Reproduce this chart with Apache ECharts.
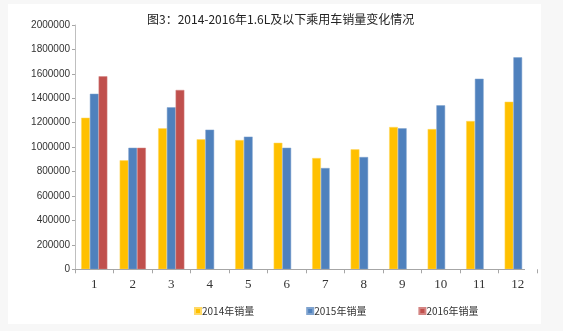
<!DOCTYPE html>
<html>
<head>
<meta charset="utf-8">
<script src="https://cdn.jsdelivr.net/npm/echarts@6/dist/echarts.min.js"></script>
<style>
html,body{margin:0;padding:0;background:#f7f7f7;}
#c{width:563px;height:331px;}
</style>
</head>
<body>
<div id="c"></div>
<script>
const categories = ['1','2','3','4','5','6','7','8','9','10','11','12'];
const sales2014 = [1241000, 892000, 1154000, 1064000, 1058000, 1036000, 911000, 982000, 1165000, 1148000, 1214000, 1372000];
const sales2015 = [1437000, 995000, 1326000, 1143000, 1086000, 995000, 829000, 919000, 1154000, 1342000, 1560000, 1735000];
const sales2016 = [1580000, 995000, 1468000, null, null, null, null, null, null, null, null, null];
const yTicks = [0, 200000, 400000, 600000, 800000, 1000000, 1200000, 1400000, 1600000, 1800000, 2000000];
const seriesNames = ['2014年销量', '2015年销量', '2016年销量'];

const chart = echarts.init(document.getElementById('c'), null, {renderer: 'canvas'});
chart.setOption({
  animation: false,
  backgroundColor: '#f7f7f7',
  graphic: [{
    type: 'rect', left: 8, top: 4, z: -10,
    shape: {width: 533, height: 320},
    style: {fill: '#ffffff'}
  }, {
    type: 'line', z: 5,
    shape: {x1: 75, y1: 269.5, x2: 525, y2: 269.5},
    style: {stroke: '#a6a6a6', lineWidth: 1}
  }],
  title: {
    text: '图3：2014-2016年1.6L及以下乘用车销量变化情况',
    left: 142, top: 8,
    textStyle: {fontFamily: 'Noto Sans CJK SC', fontSize: 12, fontWeight: 'normal', color: '#222'}
  },
  legend: {
    data: seriesNames,
    left: 189, top: 301,
    itemWidth: 6, itemHeight: 6, itemGap: 52,
    icon: 'rect',
    textStyle: {fontFamily: 'Noto Sans CJK SC', fontSize: 10, color: '#333', padding: [0,0,0,-4]}
  },
  grid: {left: 75, top: 25, width: 462, height: 244.3, containLabel: false},
  xAxis: {
    type: 'category',
    data: categories,
    axisLine: {show: false},
    axisTick: {show: true, length: 4, lineStyle: {color: '#a6a6a6'}},
    axisLabel: {fontFamily: 'Liberation Serif', fontSize: 13, color: '#333', margin: 9}
  },
  yAxis: {
    type: 'value',
    min: yTicks[0], max: yTicks[yTicks.length - 1], interval: yTicks[1] - yTicks[0],
    axisLine: {show: true, lineStyle: {color: '#bfbfbf'}},
    axisTick: {show: true, length: 3, lineStyle: {color: '#a6a6a6'}},
    splitLine: {show: false},
    axisLabel: {fontFamily: 'Liberation Sans', fontSize: 10, color: '#333', margin: 5,
      formatter: function (v) { return String(v); }}
  },
  series: [
    {name: seriesNames[0], type: 'bar', data: sales2014, barGap: '0%', barCategoryGap: '32%',
     itemStyle: {color: '#FFC000', borderColor: '#ffd966', borderWidth: 0.5}},
    {name: seriesNames[1], type: 'bar', data: sales2015, barGap: '0%', barCategoryGap: '32%',
     itemStyle: {color: '#4F81BD', borderColor: '#7fa3cf', borderWidth: 0.5}},
    {name: seriesNames[2], type: 'bar', data: sales2016, barGap: '0%', barCategoryGap: '32%',
     itemStyle: {color: '#C0504D', borderColor: '#d48583', borderWidth: 0.5}}
  ]
});
</script>
</body>
</html>
